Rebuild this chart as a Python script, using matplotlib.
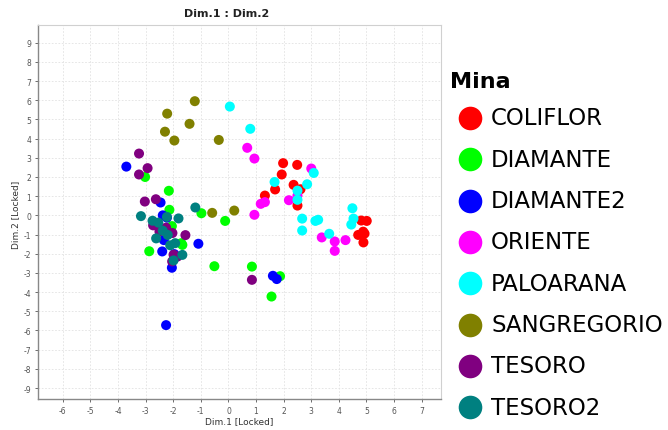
import matplotlib
matplotlib.use("Agg")
import matplotlib.pyplot as plt

categories = ["COLIFLOR", "DIAMANTE", "DIAMANTE2", "ORIENTE", "PALOARANA",
              "SANGREGORIO", "TESORO", "TESORO2"]
colors = ["#FF0000", "#00FF00", "#0000FF", "#FF00FF", "#00FFFF",
          "#808000", "#800080", "#008080"]

coliflor_x = [1.98, 2.49, 1.93, 2.36, 2.61, 1.69, 1.32, 2.50, 4.81, 5.01, 4.88, 4.70, 4.93, 4.89]
coliflor_y = [2.72, 2.63, 2.13, 1.59, 1.36, 1.35, 1.03, 0.51, -0.27, -0.29, -0.85, -1.02, -0.95, -1.41]

diamante_x = [-3.02, -2.16, -2.14, -0.98, -0.12, -2.05, -1.71, -1.67, -2.87, -0.51, 0.85, 1.87, 1.56]
diamante_y = [2.00, 1.28, 0.29, 0.11, -0.29, -0.56, -1.45, -1.54, -1.87, -2.65, -2.67, -3.17, -4.23]

diamante2_x = [-3.70, -2.46, -2.38, -2.23, -2.34, -1.09, -2.40, -1.96, -2.05, -2.26, 1.61, 1.75]
diamante2_y = [2.54, 0.67, 0.00, -0.12, -1.29, -1.48, -1.88, -2.02, -2.73, -5.72, -3.15, -3.32]

oriente_x = [0.68, 0.94, 3.00, 1.32, 1.17, 2.19, 2.50, 0.94, 3.38, 3.85, 4.24, 3.85]
oriente_y = [3.52, 2.96, 2.44, 0.69, 0.60, 0.79, 1.03, 0.03, -1.15, -1.36, -1.29, -1.85]

paloarana_x = [0.05, 0.79, 3.09, 1.67, 2.85, 2.50, 2.50, 2.67, 2.67, 3.15, 3.25, 3.65, 4.49, 4.53, 4.45]
paloarana_y = [5.67, 4.51, 2.21, 1.74, 1.62, 1.29, 0.81, -0.17, -0.79, -0.29, -0.23, -0.96, 0.37, -0.17, -0.48]

sangregorio_x = [-1.22, -2.22, -1.41, -2.30, -1.96, -0.35, -0.59, 0.21]
sangregorio_y = [5.95, 5.30, 4.77, 4.36, 3.90, 3.93, 0.13, 0.25]

tesoro_x = [-3.24, -2.93, -3.24, -3.03, -2.63, -2.73, -2.26, -2.50, -2.03, -1.56, -1.99, -1.85, -2.04, 0.85]
tesoro_y = [3.22, 2.46, 2.13, 0.72, 0.84, -0.52, -0.64, -0.84, -0.92, -1.03, -2.05, -2.15, -2.40, -3.36]

tesoro2_x = [-3.17, -2.75, -2.54, -2.23, -1.81, -1.20, -2.38, -2.20, -2.62, -2.11, -1.93, -1.67, -1.99]
tesoro2_y = [-0.04, -0.28, -0.38, -0.08, -0.16, 0.41, -0.80, -1.02, -1.20, -1.56, -1.45, -2.06, -2.35]

series = [(coliflor_x, coliflor_y), (diamante_x, diamante_y), (diamante2_x, diamante2_y),
          (oriente_x, oriente_y), (paloarana_x, paloarana_y), (sangregorio_x, sangregorio_y),
          (tesoro_x, tesoro_y), (tesoro2_x, tesoro2_y)]

x_ticks = list(range(-6, 8))
y_ticks = list(range(-9, 10))

W, H = 668, 431
fig = plt.figure(figsize=(W / 100, H / 100), dpi=100)
ax = fig.add_axes([38 / W, 1 - 400 / H, (441 - 38) / W, (400 - 26) / H])

for (xs, ys), c in zip(series, colors):
    ax.scatter(xs, ys, s=52, color=c, edgecolors="none", zorder=3)

ax.set_xlim(-6.9, 7.7)
ax.set_ylim(-9.57, 9.92)
ax.set_xticks(x_ticks)
ax.set_yticks(y_ticks)
ax.set_xticklabels([str(t) for t in x_ticks])
ax.set_yticklabels([str(t) for t in y_ticks])
ax.tick_params(labelsize=5.5, colors="#555555", length=2, width=0.6, pad=3)
ax.grid(True, color="#e2e2e2", linestyle=(0, (2, 2)), linewidth=0.6, zorder=0)
for side in ["left", "bottom"]:
    ax.spines[side].set_color("#888888")
    ax.spines[side].set_linewidth(1.0)
for side in ["top", "right"]:
    ax.spines[side].set_color("#d0d0d0")
    ax.spines[side].set_linewidth(0.8)

fig.text(227 / W, 1 - 14 / H, "Dim.1 : Dim.2", ha="center", va="center",
         fontsize=8, fontweight="bold", color="#222222")
fig.text(239 / W, 1 - 422 / H, "Dim.1 [Locked]", ha="center", va="center",
         fontsize=6.5, color="#333333")
fig.text(16 / W, 1 - 215 / H, "Dim.2 [Locked]", ha="center", va="center",
         fontsize=6.5, color="#333333", rotation=90)

# Legend
lax = fig.add_axes([440 / W, 0, (W - 440) / W, 1])
lax.set_xlim(440, W)
lax.set_ylim(H, 0)
lax.axis("off")
lax.text(450, 82, "Mina", fontsize=16, fontweight="bold", ha="left", va="center", color="black")
y0, dy = 119, 41.3
for i, (cat, c) in enumerate(zip(categories, colors)):
    y = y0 + i * dy
    lax.plot([470], [y], marker="o", markersize=17, color=c, markeredgewidth=0, linestyle="none")
    lax.text(491, y, cat, fontsize=16.5, ha="left", va="center", color="black")

fig.savefig("out.png", dpi=100)
